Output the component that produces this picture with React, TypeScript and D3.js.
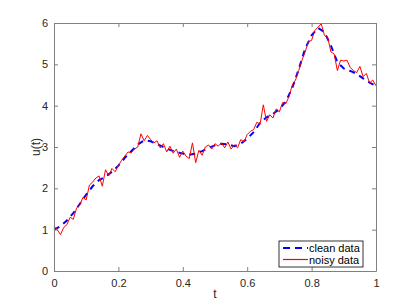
import React, { useEffect, useRef } from 'react';
import * as d3 from 'd3';

// clean curve, sampled every 0.02 in t
const cleanT = d3.range(0, 51).map(i => i * 0.02);
const cleanU = [
  1.00, 1.08, 1.22, 1.40, 1.62, 1.85, 2.05, 2.20, 2.28, 2.40,
  2.55, 2.74, 2.90, 3.06, 3.16, 3.14, 3.07, 3.00, 2.93, 2.88,
  2.84, 2.81, 2.84, 2.90, 2.98, 3.04, 3.08, 3.06, 3.02, 3.08,
  3.20, 3.36, 3.58, 3.72, 3.80, 3.92, 4.10, 4.43, 4.88, 5.38,
  5.70, 5.88, 5.78, 5.45, 5.05, 4.90, 4.84, 4.77, 4.66, 4.56,
  4.48,
];

// noisy samples, every 0.01 in t
const noisyT = d3.range(0, 101).map(i => i * 0.01);
const noisyU = [
  1.08, 1.00, 0.88, 1.05, 1.12, 1.30, 1.25, 1.52, 1.60, 1.78,
  1.72, 2.08, 2.15, 2.25, 2.30, 2.05, 2.45, 2.30, 2.48, 2.40,
  2.55, 2.68, 2.78, 2.88, 2.86, 2.95, 3.00, 3.32, 3.15, 3.28,
  3.18, 3.10, 3.15, 2.98, 3.08, 2.88, 3.02, 2.85, 2.95, 2.75,
  2.90, 2.78, 2.72, 3.10, 2.62, 2.92, 2.80, 3.00, 3.05, 2.95,
  3.08, 3.02, 3.10, 2.98, 3.12, 2.95, 3.05, 2.98, 3.18, 3.12,
  3.30, 3.38, 3.42, 3.60, 3.55, 4.02, 3.62, 3.78, 3.70, 3.92,
  3.85, 4.08, 4.05, 4.22, 4.50, 4.62, 4.85, 5.10, 5.30, 5.55,
  5.58, 5.82, 5.90, 5.98, 5.70, 5.65, 5.30, 5.25, 4.85, 5.10,
  5.08, 5.10, 4.92, 4.85, 4.80, 4.95, 4.70, 4.78, 4.55, 4.62,
  4.48,
];

const xTicks = [0, 0.2, 0.4, 0.6, 0.8, 1];
const yTicks = [0, 1, 2, 3, 4, 5, 6];
const legendLabels = ['clean data', 'noisy data'];

export default function App() {
  const ref = useRef<SVGSVGElement>(null);

  useEffect(() => {
    const W = 415, H = 306;
    const m = { left: 54, right: 39, top: 23, bottom: 35 };
    const svg = d3.select(ref.current);
    svg.selectAll('*').remove();
    svg.attr('width', W).attr('height', H);

    const x = d3.scaleLinear().domain([0, 1]).range([m.left, W - m.right]);
    const y = d3.scaleLinear().domain([0, 6]).range([H - m.bottom, m.top]);
    const font = 'Liberation Sans, Arial, sans-serif';
    const axisCol = '#808080';
    const textCol = '#262626';

    svg.append('rect').attr('width', W).attr('height', H).attr('fill', '#fff');

    // data lines
    const plot = svg.append('g');
    const line = d3.line<[number, number]>().x(d => x(d[0])).y(d => y(d[1]));
    plot.append('path')
      .attr('d', line(cleanT.map((t, i) => [t, cleanU[i]] as [number, number])))
      .attr('fill', 'none').attr('stroke', '#0000ff').attr('stroke-width', 2)
      .attr('stroke-dasharray', '6,5');
    plot.append('path')
      .attr('d', line(noisyT.map((t, i) => [t, noisyU[i]] as [number, number])))
      .attr('fill', 'none').attr('stroke', '#ff0000').attr('stroke-width', 1);

    // axes box with inward ticks on all sides
    const bottom = d3.axisBottom(x).tickValues(xTicks).tickSizeInner(-4).tickSizeOuter(0)
      .tickFormat(d => String(d)).tickPadding(8);
    const left = d3.axisLeft(y).tickValues(yTicks).tickSizeInner(-4).tickSizeOuter(0)
      .tickFormat(d => String(d)).tickPadding(6);
    const top = d3.axisTop(x).tickValues(xTicks).tickSizeInner(-4).tickSizeOuter(0).tickFormat(() => '');
    const right = d3.axisRight(y).tickValues(yTicks).tickSizeInner(-4).tickSizeOuter(0).tickFormat(() => '');

    const gb = svg.append('g').attr('transform', `translate(0,${H - m.bottom})`).call(bottom);
    const gl = svg.append('g').attr('transform', `translate(${m.left},0)`).call(left);
    const gt = svg.append('g').attr('transform', `translate(0,${m.top})`).call(top);
    const gr = svg.append('g').attr('transform', `translate(${W - m.right},0)`).call(right);
    [gb, gl, gt, gr].forEach(g => {
      g.selectAll('path, line').attr('stroke', axisCol);
      g.selectAll('text').attr('fill', textCol).attr('font-family', font).attr('font-size', 11);
    });

    // axis labels
    svg.append('text').attr('x', (m.left + W - m.right) / 2).attr('y', 298)
      .attr('text-anchor', 'middle').attr('font-family', font).attr('font-size', 12)
      .attr('fill', textCol).text('t');
    svg.append('text')
      .attr('transform', `translate(40,${(m.top + H - m.bottom) / 2}) rotate(-90)`)
      .attr('text-anchor', 'middle').attr('font-family', font).attr('font-size', 12)
      .attr('fill', textCol).text('u(t)');

    // legend
    const lg = svg.append('g').attr('transform', 'translate(279,241)');
    lg.append('rect').attr('width', 84).attr('height', 26)
      .attr('fill', '#fff').attr('stroke', '#000').attr('stroke-width', 0.8);
    lg.append('line').attr('x1', 4).attr('x2', 29).attr('y1', 7).attr('y2', 7)
      .attr('stroke', '#0000ff').attr('stroke-width', 2).attr('stroke-dasharray', '7,5');
    lg.append('line').attr('x1', 4).attr('x2', 29).attr('y1', 18.5).attr('y2', 18.5)
      .attr('stroke', '#ff0000').attr('stroke-width', 1.2);
    legendLabels.forEach((lab, i) => {
      lg.append('text').attr('x', 30).attr('y', 11 + i * 11.5).attr('font-family', font)
        .attr('font-size', 11).attr('fill', '#000').text(lab);
    });
  }, []);

  return (
    <svg ref={ref} style={{ position: 'absolute', left: 0, top: 0 }}></svg>
  );
}
